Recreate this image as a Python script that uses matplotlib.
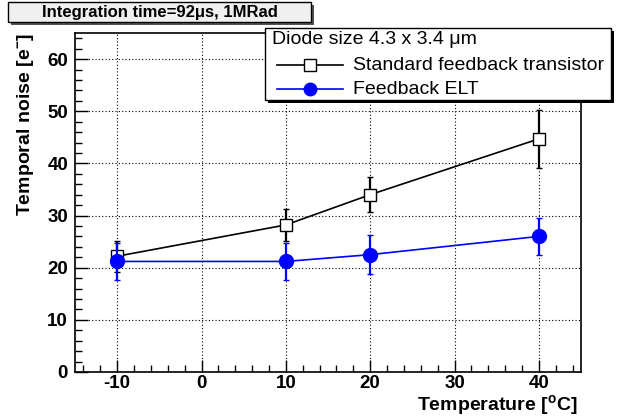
import matplotlib
matplotlib.use("Agg")
import matplotlib.pyplot as plt
from matplotlib.ticker import MultipleLocator
from matplotlib.patches import Rectangle
from matplotlib.lines import Line2D

plt.rcParams['font.family'] = ['Liberation Sans', 'DejaVu Sans']
plt.rcParams['axes.unicode_minus'] = False

temps = [-10, 10, 20, 40]
std_noise = [22.2, 28.2, 34.0, 44.7]
std_err = [3.0, 3.0, 3.4, 5.5]
elt_noise = [21.2, 21.2, 22.5, 26.0]
elt_err = [3.6, 3.5, 3.8, 3.5]

fig = plt.figure(figsize=(6.18, 4.18), dpi=100)
ax = fig.add_axes([75/618, 46/418, (581-75)/618, (372-33)/418])

ax.errorbar(temps, std_noise, yerr=std_err, color='black', lw=1.2, marker='s',
            ms=9, mfc='white', mec='black', mew=1.0, capsize=2.5, elinewidth=1.6, zorder=3)
ax.errorbar(temps, elt_noise, yerr=elt_err, color='blue', lw=1.2, marker='o',
            ms=10, mfc='blue', mec='blue', capsize=2.5, elinewidth=1.6, zorder=4)

ax.set_xlim(-15, 45)
ax.set_ylim(0, 65)
ax.xaxis.set_major_locator(MultipleLocator(10))
ax.xaxis.set_minor_locator(MultipleLocator(2))
ax.yaxis.set_major_locator(MultipleLocator(10))
ax.yaxis.set_minor_locator(MultipleLocator(2))
ax.tick_params(which='both', direction='in', top=False, right=False, width=1)
ax.tick_params(which='major', length=9, labelsize=13.5)
ax.tick_params(axis='x', which='major', pad=2)
ax.tick_params(axis='y', which='major', pad=5)
ax.tick_params(which='minor', length=5)
for lbl in ax.get_xticklabels() + ax.get_yticklabels():
    lbl.set_fontweight('bold')
ax.grid(True, which='major', linestyle=(0, (1, 2)), color='black', lw=0.8)
for s in ax.spines.values():
    s.set_linewidth(1.2)

fig.text(578/618, 1-410/418, 'Temperature [$\\mathregular{^{o}}$C]', fontsize=14, fontweight='bold',
         ha='right', va='baseline')
fig.text(26/618, 1-33/418, 'Temporal noise [e$\\mathregular{^{-}}$]', fontsize=14, fontweight='bold',
         ha='center', va='top', rotation=90)

# Title box with shadow
fig.patches.append(Rectangle((11/618, 1-25/418), 303/618, 20/418, transform=fig.transFigure,
                             facecolor='#555555', edgecolor='none', zorder=5))
fig.patches.append(Rectangle((8/618, 1-22/418), 303/618, 20/418, transform=fig.transFigure,
                             facecolor='#f0f0f0', edgecolor='black', lw=1, zorder=6))
fig.text((8+151.5)/618, 1-12/418, 'Integration time=92\u03bcs, 1MRad', ha='center', va='center',
         fontsize=12, fontweight='bold', zorder=7)

# Legend box with shadow
lx0, ly0, lw_, lh_ = 265, 28, 346, 72
fig.patches.append(Rectangle(((lx0+3)/618, 1-(ly0+lh_+3)/418), lw_/618, lh_/418, transform=fig.transFigure,
                             facecolor='black', edgecolor='none', zorder=8))
fig.patches.append(Rectangle((lx0/618, 1-(ly0+lh_)/418), lw_/618, lh_/418, transform=fig.transFigure,
                             facecolor='white', edgecolor='black', lw=1, zorder=9))
fig.text((lx0+7)/618, 1-(ly0+12)/418, 'Diode size 4.3 x 3.4 \u03bcm', ha='left', va='center', fontsize=14, zorder=10)
for i, (lab, col, mk, mfc, ms) in enumerate([('Standard feedback transistor', 'black', 's', 'white', 8),
                                             ('Feedback ELT', 'blue', 'o', 'blue', 9)]):
    yy = 1 - (ly0 + 37 + i*24)/418
    fig.add_artist(Line2D([(lx0+12)/618, (lx0+78)/618], [yy, yy], transform=fig.transFigure,
                          color=col, lw=1.2, zorder=10))
    fig.add_artist(Line2D([(lx0+45)/618], [yy], transform=fig.transFigure, color=col, marker=mk,
                          ms=ms, mfc=mfc, mec=col, mew=1.0, zorder=11))
    fig.text((lx0+88)/618, yy, lab, ha='left', va='center', fontsize=14, zorder=10)

fig.savefig('out.png', dpi=100)
